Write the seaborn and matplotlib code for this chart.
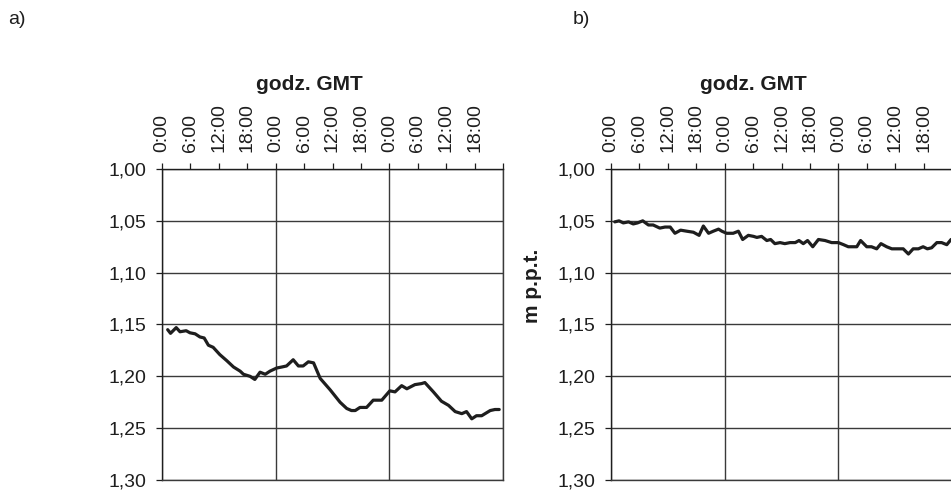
import matplotlib
matplotlib.use("Agg")
import matplotlib.pyplot as plt
import matplotlib.ticker as mticker
import seaborn as sns

sns.set_theme(style="white")
plt.rcParams["font.family"] = ["Liberation Sans", "DejaVu Sans"]

# hours since start and water level in m p.p.t.
hours_a = [1.2, 1.8, 3.0, 3.8, 5.1, 5.9, 7.0, 8.0, 8.9, 9.8, 10.8, 12.2, 13.7,
           15.1, 16.5, 17.2, 18.6, 19.6, 20.7, 21.8, 22.8, 24.2, 25.3, 26.3,
           27.7, 28.8, 29.8, 30.9, 32.0, 33.4, 35.5, 37.6, 39.0, 40.0, 40.8,
           41.8, 43.2, 44.6, 46.4, 48.1, 49.2, 50.6, 51.7, 53.4, 54.8, 55.5,
           57.3, 59.0, 60.5, 61.9, 63.3, 64.3, 65.4, 66.4, 67.5, 69.3, 70.3, 71.2]
level_a = [1.155, 1.1585, 1.153, 1.157, 1.156, 1.158, 1.159, 1.162, 1.163,
           1.170, 1.172, 1.179, 1.185, 1.191, 1.195, 1.198, 1.200, 1.203,
           1.196, 1.198, 1.195, 1.192, 1.191, 1.190, 1.184, 1.190, 1.190,
           1.186, 1.187, 1.202, 1.213, 1.225, 1.231, 1.233, 1.233, 1.230,
           1.230, 1.223, 1.223, 1.214, 1.215, 1.209, 1.212, 1.208, 1.207,
           1.206, 1.215, 1.224, 1.228, 1.234, 1.236, 1.234, 1.241, 1.238,
           1.238, 1.233, 1.232, 1.232]

hours_b = [0.8, 1.7, 2.6, 3.7, 4.7, 5.6, 6.7, 7.9, 8.9, 10.3, 11.4, 12.5, 13.5,
           14.7, 16.0, 17.4, 18.6, 19.5, 20.6, 21.6, 22.7, 23.4, 24.4, 25.8,
           26.9, 27.8, 29.0, 30.1, 30.8, 31.8, 32.9, 33.7, 34.6, 35.7, 36.7,
           37.8, 38.9, 39.7, 40.6, 41.5, 42.6, 43.8, 45.2, 46.6, 48.0, 49.1,
           50.1, 51.9, 52.7, 54.0, 55.0, 56.1, 57.0, 58.2, 59.3, 60.3, 61.7,
           62.8, 63.8, 64.9, 65.9, 66.8, 67.7, 68.8, 69.8, 70.9, 71.8]
level_b = [1.051, 1.050, 1.052, 1.051, 1.053, 1.052, 1.050, 1.054, 1.054,
           1.057, 1.056, 1.056, 1.062, 1.059, 1.060, 1.061, 1.064, 1.055,
           1.062, 1.060, 1.058, 1.060, 1.062, 1.062, 1.060, 1.068, 1.064,
           1.065, 1.066, 1.065, 1.069, 1.068, 1.072, 1.071, 1.072, 1.071,
           1.071, 1.069, 1.072, 1.069, 1.075, 1.068, 1.069, 1.071, 1.071,
           1.073, 1.075, 1.075, 1.069, 1.075, 1.075, 1.077, 1.072, 1.075,
           1.077, 1.077, 1.077, 1.082, 1.077, 1.077, 1.075, 1.077, 1.076,
           1.071, 1.071, 1.073, 1.068]

day_ticks = [0, 24, 48, 72]
day_labels = ["0:00", "0:00", "0:00", ""]
hour_ticks = [6, 12, 18, 30, 36, 42, 54, 60, 66]
hour_labels = ["6:00", "12:00", "18:00"] * 3
y_ticks = [1.00, 1.05, 1.10, 1.15, 1.20, 1.25, 1.30]

INK = "#1e1e1e"
GRID = "#3a3a3a"

fig = plt.figure(figsize=(9.51, 4.90), dpi=100)
W, H = 951, 490


def style_axis(ax):
    ax.set_xlim(0, 72)
    ax.set_ylim(1.30, 1.00)
    ax.xaxis.tick_top()
    ax.set_xticks(day_ticks)
    ax.set_xticklabels(day_labels)
    ax.set_xticks(hour_ticks, minor=True)
    ax.set_xticklabels(hour_labels, minor=True)
    ax.set_yticks(y_ticks)
    ax.yaxis.set_major_formatter(
        mticker.FuncFormatter(lambda v, _: f"{v:.2f}".replace(".", ",")))
    for which in ("major", "minor"):
        ax.tick_params(axis="x", which=which, top=True, bottom=False,
                       direction="out", length=4.5, width=0.9, color=INK,
                       labelsize=14, labelcolor=INK, pad=7.5, labelrotation=90)
    ax.tick_params(axis="y", left=True, direction="out", length=4, width=0.9,
                   color=INK, labelsize=14, labelcolor=INK, pad=7)
    ax.grid(axis="y", color=GRID, linewidth=1.0)
    ax.grid(axis="x", which="major", color=GRID, linewidth=1.0)
    for s in ax.spines.values():
        s.set_color(GRID)
        s.set_linewidth(1.0)
    ax.spines["left"].set_color(INK)
    ax.spines["top"].set_color(INK)
    ax.set_xlabel("")
    ax.set_ylabel("")


ax_a = fig.add_axes([162 / W, 10 / H, 341 / W, 311 / H])
sns.lineplot(x=hours_a, y=level_a, ax=ax_a, color=INK, linewidth=2.3)
style_axis(ax_a)

ax_b = fig.add_axes([611 / W, 10 / H, 341 / W, 311 / H])
sns.lineplot(x=hours_b, y=level_b, ax=ax_b, color=INK, linewidth=2.3)
style_axis(ax_b)

fig.text(309 / W, 1 - 85 / H, "godz. GMT", ha="center", va="center",
         fontsize=15, fontweight="bold", color=INK)
fig.text(753 / W, 1 - 85 / H, "godz. GMT", ha="center", va="center",
         fontsize=15, fontweight="bold", color=INK)
fig.text(533 / W, 1 - 286 / H, "m p.p.t.", ha="center", va="center",
         rotation=90, fontsize=15, fontweight="bold", color=INK)
fig.text(8 / W, 1 - 20 / H, "a)", ha="left", va="center", fontsize=14,
         color=INK)
fig.text(573 / W, 1 - 20 / H, "b)", ha="left", va="center", fontsize=14,
         color=INK)

fig.savefig("out.png", dpi=100)
